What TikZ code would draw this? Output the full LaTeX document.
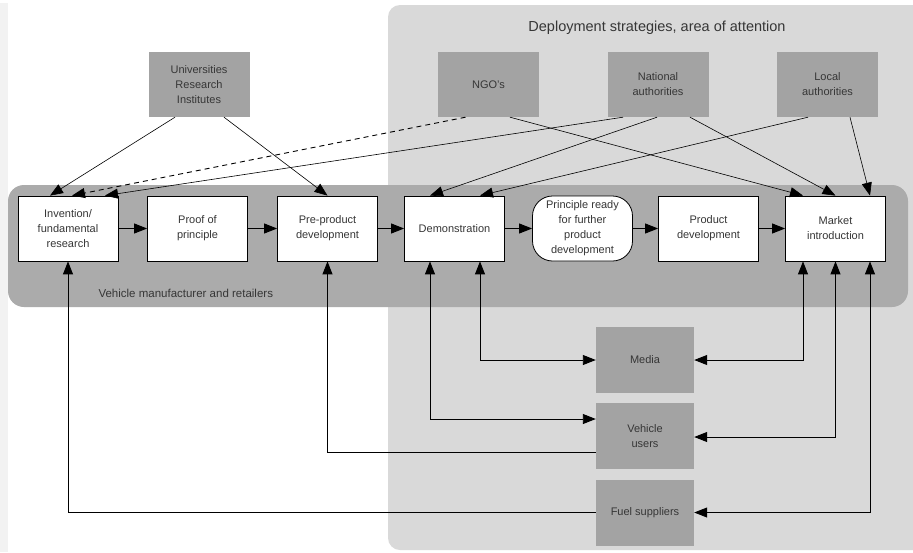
\documentclass[tikz,border=0pt]{standalone}
\usepackage{fontspec}
\setmainfont{Liberation Sans}
\usetikzlibrary{arrows.meta}
\definecolor{lightbg}{HTML}{D9D9D9}
\definecolor{bandbg}{HTML}{ABABAB}
\definecolor{boxgrey}{HTML}{A3A3A3}
\definecolor{txt}{HTML}{363636}
\tikzset{
  every node/.style={text=txt, font=\fontsize{11}{15}\selectfont},
  whitebox/.style={draw=black, line width=0.8pt, fill=white, minimum width=100pt, minimum height=65pt, inner sep=0pt, align=center},
  roundbox/.style={whitebox, rounded corners=20pt},
  greybox/.style={fill=boxgrey, minimum width=101pt, minimum height=65pt, inner sep=0pt, align=center},
  tip/.tip={Triangle[length=13pt,width=10pt]},
  arr/.style={line width=0.9pt, -tip},
  darr/.style={line width=0.9pt, tip-tip},
  thin/.style={line width=0.6pt, -tip}
}
\begin{document}
\begin{tikzpicture}[x=1pt,y=-1pt]
\useasboundingbox (0,0) rectangle (913,552);
\clip (0,0) rectangle (913,552);
\fill[white] (0,0) rectangle (913,552);
\fill[black!5] (0,3) rectangle (8,552);
% background areas
\fill[lightbg, rounded corners=12pt] (388,5) rectangle (935,550);
\fill[bandbg, rounded corners=16pt] (8,185) rectangle (908,307);
\node[font=\fontsize{14.5}{17}\selectfont] (title) at (657,28) {Deployment strategies, area of attention};
\node[anchor=west, font=\fontsize{11.5}{14}\selectfont] (band) at (95,293) {Vehicle manufacturer and retailers};
% top boxes
\node[greybox] (uni) at (199,84.5) {Universities\\Research\\Institutes};
\node[greybox] (ngo) at (488.5,84.5) {NGO's};
\node[greybox] (nat) at (658,84.5) {National\\authorities};
\node[greybox] (loc) at (827.5,84.5) {Local\\authorities};
% row
\node[whitebox] (inv) at (68,228.5) {Invention/\\fundamental\\research};
\node[whitebox] (proof) at (197.5,228.5) {Proof of\\principle};
\node[whitebox] (pre) at (327.5,228.5) {Pre-product\\development};
\node[whitebox] (demo) at (454.5,228.5) {Demonstration};
\node[roundbox] (prin) at (582.5,228.5) {Principle ready\\for further\\product\\development};
\node[whitebox] (prod) at (708.5,228.5) {Product\\development};
\node[whitebox] (mkt) at (835.5,228.5) {Market\\introduction};
% bottom boxes
\node[greybox, minimum width=98pt, minimum height=66pt] (media) at (645,360) {Media};
\node[greybox, minimum width=98pt, minimum height=66pt] (users) at (645,436) {Vehicle\\users};
\node[greybox, minimum width=98pt, minimum height=66pt] (fuel) at (645,512.5) {Fuel suppliers};
% row arrows
\draw[arr] (inv) -- (proof);
\draw[arr] (proof) -- (pre);
\draw[arr] (pre) -- (demo);
\draw[arr] (demo) -- (prin);
\draw[arr] (prin) -- (prod);
\draw[arr] (prod) -- (mkt);
% top connectors
\draw[thin] ([xshift=-24pt]uni.south) -- ([xshift=-18pt]inv.north);
\draw[thin] ([xshift=25pt]uni.south) -- (pre.north);
\draw[thin, line width=0.9pt, dash pattern=on 5pt off 4pt] ([xshift=-23pt]ngo.south) -- ([xshift=4pt]inv.north);
\draw[thin] ([xshift=-35pt]nat.south) -- ([xshift=37pt]inv.north);
\draw[thin] ([xshift=-1pt]nat.south) -- ([xshift=-24.5pt]demo.north);
\draw[thin] ([xshift=-19.5pt]loc.south) -- ([xshift=25.5pt]demo.north);
\draw[thin] ([xshift=21.5pt]ngo.south) -- ([xshift=-32.5pt]mkt.north);
\draw[thin] ([xshift=32pt]nat.south) -- (mkt.north);
\draw[thin] ([xshift=22.5pt]loc.south) -- ([xshift=34.5pt]mkt.north);
% bottom connectors
\draw[arr] (fuel.west) -| (inv.south);
\draw[arr] ([yshift=-16pt]users.west) -| (pre.south);
\draw[darr] ([yshift=17pt]users.west) -| ([xshift=-24.5pt]demo.south);
\draw[darr] (media.west) -| ([xshift=25.5pt]demo.south);
\draw[darr] (media.east) -| ([xshift=-32.5pt]mkt.south);
\draw[darr] ([yshift=-1pt]users.east) -| (mkt.south);
\draw[darr] (fuel.east) -| ([xshift=34.5pt]mkt.south);
\end{tikzpicture}
\end{document}
